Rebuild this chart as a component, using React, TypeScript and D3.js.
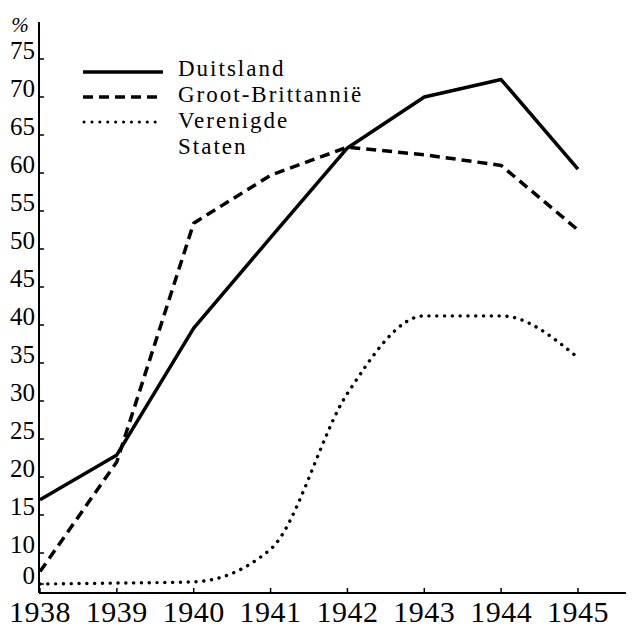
import React from "react";
import * as d3 from "d3";

const years = [1938, 1939, 1940, 1941, 1942, 1943, 1944, 1945];
const duitsland = [17, 22.9, 39.6, 51.5, 63.3, 70, 72.3, 60.5];
const grootBrittannie = [4, 22, 53.4, 59.7, 63.4, 62.4, 61, 52.5];
const verenigdeStaten = [0, 0.3, 0.7, 10.5, 31, 41.2, 41.2, 35.7];
const yTicks = [0, 10, 15, 20, 25, 30, 35, 40, 45, 50, 55, 60, 65, 70, 75];
const seriesNames = ["Duitsland", "Groot-Brittannië", "Verenigde", "Staten"];

const W = 639;
const H = 637;
const FONT = "'Liberation Serif', 'Times New Roman', serif";

export default function App() {
  const x = d3.scaleLinear().domain([1938, 1945]).range([40, 578]);
  const y = d3.scaleLinear().domain([0, 10, 75]).range([584, 553, 59]);
  const axisX = 39;
  const axisY = 593;

  const lineLin = d3
    .line<number>()
    .x((_, i) => x(years[i]))
    .y((d) => y(d))
    .curve(d3.curveLinear);
  const lineSmooth = d3
    .line<number>()
    .x((_, i) => x(years[i]))
    .y((d) => y(d))
    .curve(d3.curveMonotoneX);

  const legendY = [76, 102, 128, 154];

  return (
    <svg
      width={W}
      height={H}
      style={{ position: "absolute", left: 0, top: 0, background: "#fff" }}
      fontFamily={FONT}
    >
      <rect width={W} height={H} fill="#fff" />
      {/* axes */}
      <line x1={axisX} y1={22} x2={axisX} y2={axisY} stroke="#000" strokeWidth={2} />
      <line x1={axisX} y1={axisY} x2={626} y2={axisY} stroke="#000" strokeWidth={2} />
      {yTicks.map((t) => (
        <g key={t}>
          <line x1={axisX} x2={axisX + 5} y1={y(t)} y2={y(t)} stroke="#000" strokeWidth={1.5} />
          <text x={35} y={y(t)} fontSize={25} textAnchor="end" fill="#000">
            {t}
          </text>
        </g>
      ))}
      <text x={20} y={32} fontSize={21} textAnchor="middle" fontStyle="italic" fill="#000">
        %
      </text>
      {years.map((yr) => (
        <g key={yr}>
          <line x1={x(yr)} x2={x(yr)} y1={axisY} y2={axisY - 5} stroke="#000" strokeWidth={1.5} />
          <text x={x(yr)} y={622} fontSize={30} letterSpacing={0.5} textAnchor="middle" fill="#000">
            {yr}
          </text>
        </g>
      ))}
      {/* series */}
      <path d={lineLin(duitsland) || ""} fill="none" stroke="#000" strokeWidth={3.5} strokeLinejoin="round" />
      <path
        d={lineLin(grootBrittannie) || ""}
        fill="none"
        stroke="#000"
        strokeWidth={3.5}
        strokeDasharray="10 6"
        strokeLinejoin="round"
      />
      <path
        d={lineSmooth(verenigdeStaten) || ""}
        fill="none"
        stroke="#000"
        strokeWidth={3.4}
        strokeDasharray="0.1 7.7"
        strokeLinecap="round"
      />
      {/* legend */}
      <line x1={83} x2={163} y1={72} y2={72} stroke="#000" strokeWidth={3.5} />
      <line x1={83} x2={163} y1={97} y2={97} stroke="#000" strokeWidth={3.5} strokeDasharray="10 6" />
      <line x1={84} x2={163} y1={122} y2={122} stroke="#000" strokeWidth={3} strokeDasharray="0.1 7.8" strokeLinecap="round" />
      {seriesNames.map((n, i) => (
        <text key={n} x={178} y={legendY[i]} fontSize={23} letterSpacing={2} fill="#000">
          {n}
        </text>
      ))}
    </svg>
  );
}
